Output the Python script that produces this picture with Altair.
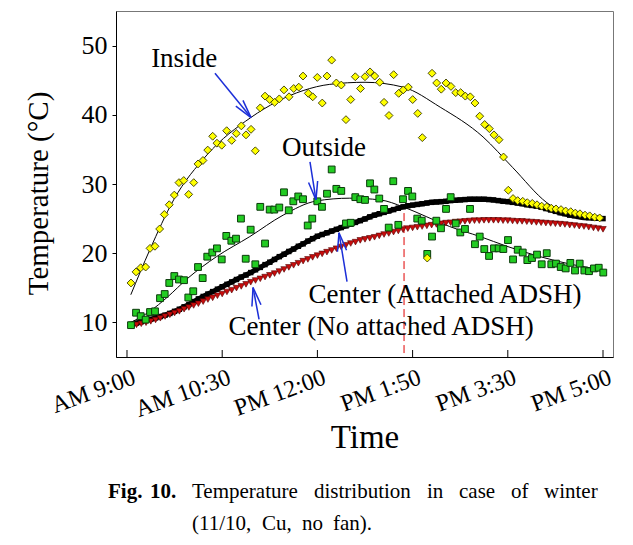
import math
import altair as alt
import pandas as pd

FONT = "Liberation Serif"
W, H = 497, 346
X0, X1 = -0.1155, 5.105
Y0, Y1 = 5, 55

# x is in "tick units": 0 = AM 9:00 ... 5 = PM 5:00 (equally spaced labels)
tick_labels = ["AM 9:00", "AM 10:30", "PM 12:00", "PM 1:50", "PM 3:30", "PM 5:00"]
tick_pos = [0, 1, 2, 3, 4, 5]
y_ticks = [10, 20, 30, 40, 50]

inside_t = [0.042, 0.095, 0.144, 0.196, 0.242, 0.294, 0.343, 0.392, 0.444, 0.497,
            0.546, 0.596, 0.648, 0.701, 0.746, 0.798, 0.848, 0.900, 0.945, 0.995,
            1.047, 1.100, 1.148, 1.201, 1.250, 1.303, 1.348, 1.400, 1.450, 1.499,
            1.551, 1.600, 1.649, 1.702, 1.751, 1.804, 1.849, 1.904, 1.951, 1.999,
            2.051, 2.101, 2.150, 2.199, 2.251, 2.300, 2.350, 2.398, 2.453, 2.500,
            2.553, 2.602, 2.654, 2.700, 2.752, 2.801, 2.854, 2.902, 2.955, 3.001,
            3.054, 3.102, 3.154, 3.204, 3.253, 3.301, 3.351, 3.403, 3.453, 3.505,
            3.554, 3.606, 3.655, 3.705, 3.757, 3.806, 3.855, 3.908, 3.955, 4.005,
            4.055, 4.104, 4.157, 4.205, 4.257, 4.307, 4.356, 4.409, 4.457, 4.506,
            4.559, 4.608, 4.661, 4.709, 4.758, 4.811, 4.860, 4.913, 4.965]
inside_y = [15.7, 17.3, 17.9, 18.0, 20.7, 21.0, 23.5, 25.6, 27.0, 28.4,
            30.2, 30.5, 28.5, 30.2, 32.9, 33.4, 34.9, 36.9, 35.9, 35.6,
            37.7, 36.3, 37.3, 38.4, 37.1, 37.9, 34.8, 41.0, 42.7, 42.2,
            41.8, 42.3, 43.6, 42.6, 43.8, 44.0, 45.6, 43.1, 42.6, 45.4,
            41.7, 45.6, 47.9, 44.6, 44.3, 39.3, 42.2, 45.5, 43.8, 45.5,
            46.2, 45.6, 44.7, 41.8, 39.9, 45.8, 43.1, 43.6, 44.0, 42.2,
            40.2, 36.7, 19.3, 46.0, 44.6, 43.7, 44.6, 44.1, 43.2, 43.2,
            42.7, 42.6, 41.7, 39.8, 38.6, 38.0, 37.1, 36.4, 33.9, 29.1,
            27.9, 27.6, 27.5, 27.3, 27.2, 27.0, 26.8, 26.7, 26.5, 26.4,
            26.3, 26.1, 26.0, 25.8, 25.7, 25.5, 25.4, 25.2, 25.1]

outside_t = [0.042, 0.095, 0.144, 0.196, 0.242, 0.294, 0.347, 0.396, 0.444, 0.497,
             0.546, 0.599, 0.644, 0.696, 0.746, 0.795, 0.843, 0.896, 0.945, 0.995,
             1.043, 1.096, 1.145, 1.197, 1.247, 1.299, 1.348, 1.400, 1.450, 1.499,
             1.547, 1.600, 1.649, 1.699, 1.747, 1.799, 1.849, 1.898, 1.946, 1.999,
             2.048, 2.101, 2.150, 2.199, 2.251, 2.300, 2.350, 2.398, 2.451, 2.500,
             2.553, 2.598, 2.650, 2.700, 2.749, 2.797, 2.850, 2.899, 2.952, 2.997,
             3.049, 3.096, 3.154, 3.204, 3.249, 3.298, 3.351, 3.400, 3.453, 3.501,
             3.550, 3.603, 3.655, 3.705, 3.753, 3.803, 3.855, 3.904, 3.953, 4.002,
             4.055, 4.104, 4.157, 4.205, 4.254, 4.307, 4.356, 4.409, 4.457, 4.506,
             4.556, 4.608, 4.657, 4.706, 4.755, 4.804, 4.853, 4.905, 4.955, 5.003]
outside_y = [9.6, 11.4, 10.9, 10.4, 11.5, 11.6, 13.5, 14.1, 15.7, 16.7,
             16.2, 16.1, 13.6, 14.5, 18.0, 16.4, 19.5, 20.1, 20.7, 19.1,
             22.5, 21.8, 22.1, 25.0, 19.2, 23.4, 18.4, 26.7, 21.4, 26.3,
             26.3, 26.6, 28.8, 26.2, 27.5, 28.2, 27.8, 24.0, 25.0, 27.5,
             26.7, 28.6, 32.1, 29.3, 29.0, 24.3, 24.4, 28.1, 27.8, 27.7,
             30.1, 29.2, 27.9, 26.4, 23.7, 30.4, 24.1, 27.8, 29.0, 28.2,
             25.0, 24.7, 19.9, 22.4, 24.7, 23.6, 26.4, 28.1, 24.3, 23.0,
             23.5, 26.4, 21.3, 22.4, 20.6, 19.6, 20.7, 20.7, 20.6, 21.9,
             19.1, 20.5, 20.1, 19.0, 19.3, 19.8, 18.4, 20.0, 18.4, 18.5,
             18.0, 17.8, 18.6, 17.5, 18.5, 17.5, 17.4, 17.8, 17.9, 17.2]

# dense series: one sample every 0.05 tick units
center_t = [round(0.05 * (i + 1), 2) for i in range(100)]
attached_y = [9.7, 9.9, 10.1, 10.3, 10.45, 10.65, 10.85, 11.05, 11.3, 11.6,
              11.9, 12.25, 12.6, 13.0, 13.4, 13.75, 14.1, 14.45, 14.8, 15.15,
              15.5, 15.85, 16.2, 16.55, 16.85, 17.2, 17.6, 17.95, 18.35, 18.7,
              19.1, 19.5, 19.85, 20.25, 20.6, 21.0, 21.35, 21.75, 22.1, 22.45,
              22.7, 22.95, 23.2, 23.45, 23.7, 23.95, 24.2, 24.45, 24.7, 24.95,
              25.25, 25.5, 25.7, 25.9, 26.1, 26.3, 26.5, 26.7, 26.85, 26.95,
              27.05, 27.15, 27.25, 27.35, 27.4, 27.45, 27.5, 27.6, 27.65, 27.7,
              27.75, 27.8, 27.8, 27.8, 27.8, 27.75, 27.7, 27.6, 27.5, 27.45,
              27.35, 27.25, 27.15, 27.0, 26.9, 26.8, 26.65, 26.45, 26.25, 26.05,
              25.85, 25.7, 25.5, 25.4, 25.3, 25.2, 25.15, 25.1, 25.05, 25.0]
no_attached_y = [9.55, 9.65, 9.8, 9.95, 10.15, 10.35, 10.6, 10.85, 11.1, 11.35,
                 11.6, 11.9, 12.15, 12.45, 12.7, 13.0, 13.3, 13.55, 13.85, 14.1,
                 14.4, 14.65, 14.95, 15.2, 15.5, 15.8, 16.05, 16.3, 16.55, 16.8,
                 17.05, 17.35, 17.65, 17.95, 18.25, 18.55, 18.85, 19.1, 19.4, 19.65,
                 19.9, 20.15, 20.4, 20.65, 20.9, 21.15, 21.4, 21.6, 21.85, 22.0,
                 22.15, 22.3, 22.5, 22.7, 22.85, 23.05, 23.2, 23.4, 23.55, 23.65,
                 23.75, 23.85, 23.95, 24.05, 24.15, 24.25, 24.35, 24.4, 24.5, 24.55,
                 24.6, 24.65, 24.7, 24.7, 24.75, 24.75, 24.75, 24.75, 24.7, 24.7,
                 24.65, 24.6, 24.6, 24.55, 24.5, 24.45, 24.4, 24.35, 24.3, 24.25,
                 24.2, 24.15, 24.05, 24.0, 23.9, 23.85, 23.75, 23.65, 23.55, 23.45]

inside_fit_t = [0.04, 0.24, 0.49, 0.84, 1.30, 1.85, 2.13, 2.50, 2.90, 3.29, 3.74, 4.05, 4.41, 4.65, 4.83, 4.97]
inside_fit_y = [14.0, 20.5, 27.7, 34.2, 39.6, 43.5, 44.4, 44.7, 44.0, 41.1, 36.8, 32.4, 27.3, 25.4, 24.8, 24.9]
outside_fit_t = [0.04, 0.24, 0.42, 0.64, 0.94, 1.29, 1.64, 1.99, 2.34, 2.66, 2.90, 3.15, 3.39, 3.71, 3.99, 4.34, 4.68, 5.00]
outside_fit_y = [10.0, 11.6, 13.6, 16.4, 19.5, 22.4, 25.5, 27.55, 27.95, 27.7, 26.7, 25.25, 23.85, 22.4, 21.0, 19.5, 18.35, 17.6]

marker_t = [2.91]
marker_top = [25.8]

ann_labels = ["Inside", "Outside", "Center (Attached ADSH)", "Center (No attached ADSH)"]
ann_t = [0.60, 2.07, 3.34, 2.67]
ann_y = [48.1, 35.2, 14.0, 9.3]
arrow_tail_t = [0.924, 1.922, 2.311, 1.387]
arrow_tail_y = [46.0, 33.2, 15.9, 10.43]
arrow_head_t = [1.303, 1.985, 2.227, 1.324]
arrow_head_y = [39.6, 27.7, 22.95, 15.04]


def to_px(t, v):
    return ((t - X0) / (X1 - X0) * W, (Y1 - v) / (Y1 - Y0) * H)


def to_data(px, py):
    return (X0 + px / W * (X1 - X0), Y1 - py / H * (Y1 - Y0))


segs = []
for tt, ty, ht, hy in zip(arrow_tail_t, arrow_tail_y, arrow_head_t, arrow_head_y):
    segs.append({"t": tt, "y": ty, "t2": ht, "y2": hy})
    tx, tpy = to_px(tt, ty)
    hx, hpy = to_px(ht, hy)
    dx, dy = tx - hx, tpy - hpy
    L = math.hypot(dx, dy)
    ux, uy = dx / L, dy / L
    for ang in (math.radians(14), math.radians(-14)):
        wx = ux * math.cos(ang) - uy * math.sin(ang)
        wy = ux * math.sin(ang) + uy * math.cos(ang)
        et, ey = to_data(hx + 19 * wx, hpy + 19 * wy)
        segs.append({"t": ht, "y": hy, "t2": et, "y2": ey})
df_arrows = pd.DataFrame(segs)

label_expr = "[" + ",".join(f"'{s}'" for s in tick_labels) + "][datum.value]"
xs = alt.Scale(domain=[X0, X1], nice=False, zero=False)
ys = alt.Scale(domain=[Y0, Y1], nice=False, zero=False)
x_axis = alt.Axis(values=tick_pos, labelExpr=label_expr, ticks=False, labelAngle=340,
                  labelAlign="right", labelBaseline="top", labelPadding=8, labelOffset=3,
                  labelFont=FONT, labelFontSize=24, labelColor="black", labelOverlap=False,
                  labelFlush=False, domainColor="black", domainWidth=1, grid=False,
                  title="Time", titleFont=FONT, titleFontSize=33, titleFontWeight="normal",
                  titleColor="black", titleY=90, titleBaseline="alphabetic")
y_axis = alt.Axis(values=y_ticks, tickSize=4, tickColor="black", labelFont=FONT, labelFontSize=26,
                  labelColor="black", labelPadding=5, domainColor="black", grid=False,
                  title="Temperature (°C)", titleFont=FONT, titleFontSize=29,
                  titleFontWeight="normal", titleColor="black", titleAngle=270, titleX=-69,
                  titleY=182, titleAlign="center", titleBaseline="alphabetic")


def X(f="t"):
    return alt.X(f, type="quantitative", scale=xs, axis=x_axis)


def Y(f="y"):
    return alt.Y(f, type="quantitative", scale=ys, axis=y_axis)


df_in = pd.DataFrame({"t": inside_t, "y": inside_y})
df_out = pd.DataFrame({"t": outside_t, "y": outside_y})
df_att = pd.DataFrame({"t": center_t, "y": attached_y})
df_noatt = pd.DataFrame({"t": center_t, "y": no_attached_y})
df_infit = pd.DataFrame({"t": inside_fit_t, "y": inside_fit_y})
df_outfit = pd.DataFrame({"t": outside_fit_t, "y": outside_fit_y})
df_marker = pd.DataFrame({"t": marker_t, "y": marker_top, "y2": [Y0]})
df_ticks = pd.DataFrame({"t": tick_pos})
df_ann = pd.DataFrame({"t": ann_t, "y": ann_y, "label": ann_labels})
df_one = pd.DataFrame({"k": [0]})

layers = []
layers.append(alt.Chart(df_marker).mark_rule(color="#e00000", strokeWidth=1, strokeDash=[8, 4])
              .encode(x=X(), y=Y(), y2="y2"))
layers.append(alt.Chart(df_infit).mark_line(color="black", strokeWidth=1, interpolate="monotone")
              .encode(x=X(), y=Y()))
layers.append(alt.Chart(df_outfit).mark_line(color="black", strokeWidth=1, interpolate="monotone")
              .encode(x=X(), y=Y()))
layers.append(alt.Chart(df_att).mark_line(color="black", strokeWidth=5)
              .encode(x=X(), y=Y()))
layers.append(alt.Chart(df_att).mark_point(shape="square", filled=True, size=30, color="black", opacity=1)
              .encode(x=X(), y=Y()))
layers.append(alt.Chart(df_noatt).mark_point(shape="triangle-down", filled=True, size=42, fill="#c80c0c",
                                             stroke="#500000", strokeWidth=0.6, opacity=1)
              .encode(x=X(), y=Y()))
layers.append(alt.Chart(df_out).mark_point(shape="square", filled=True, size=46, fill="#22cc22",
                                           stroke="#0a3a0a", strokeWidth=1, opacity=1)
              .encode(x=X(), y=Y()))
layers.append(alt.Chart(df_in).mark_point(shape="diamond", filled=True, size=62, fill="#ffff00",
                                          stroke="#3a3a00", strokeWidth=0.9, opacity=1)
              .encode(x=X(), y=Y()))
layers.append(alt.Chart(df_ticks).mark_rule(color="black", strokeWidth=1)
              .encode(x=X(), y=alt.value(H), y2=alt.value(H - 7)))
layers.append(alt.Chart(df_arrows).mark_rule(color="#1c2fd8", strokeWidth=1.5)
              .encode(x=X(), y=Y(), x2="t2", y2="y2"))
layers.append(alt.Chart(df_ann).mark_text(font=FONT, fontSize=27, color="black", align="center",
                                          baseline="middle")
              .encode(x=X(), y=Y(), text="label"))

# caption (pixel positions relative to the plot origin)
caption_bold = [("Fig.", -8), ("10.", 34)]
caption_line1 = [("Temperature", 76), ("distribution", 198), ("in", 311), ("case", 343),
                 ("of", 395), ("winter", 428)]
caption_line2 = [("(11/10,", 76), ("Cu,", 146), ("no", 186), ("fan).", 217)]
for word, px in caption_bold:
    layers.append(alt.Chart(df_one).mark_text(font=FONT, fontSize=21, fontWeight="bold", color="black",
                                              align="left", baseline="alphabetic", text=word)
                  .encode(x=alt.value(px), y=alt.value(487)))
for word, px in caption_line1:
    layers.append(alt.Chart(df_one).mark_text(font=FONT, fontSize=21, color="black",
                                              align="left", baseline="alphabetic", text=word)
                  .encode(x=alt.value(px), y=alt.value(487)))
for word, px in caption_line2:
    layers.append(alt.Chart(df_one).mark_text(font=FONT, fontSize=21, color="black",
                                              align="left", baseline="alphabetic", text=word)
                  .encode(x=alt.value(px), y=alt.value(519)))

chart = alt.layer(*layers).properties(
    width=W, height=H,
    padding={"left": 108, "top": 3, "right": 8, "bottom": 180},
    autosize=alt.AutoSizeParams(type="none"),
    background="white",
).configure_view(stroke="#777", strokeWidth=1)

chart.save("out.html", embed_options={"renderer": "svg", "actions": False})
